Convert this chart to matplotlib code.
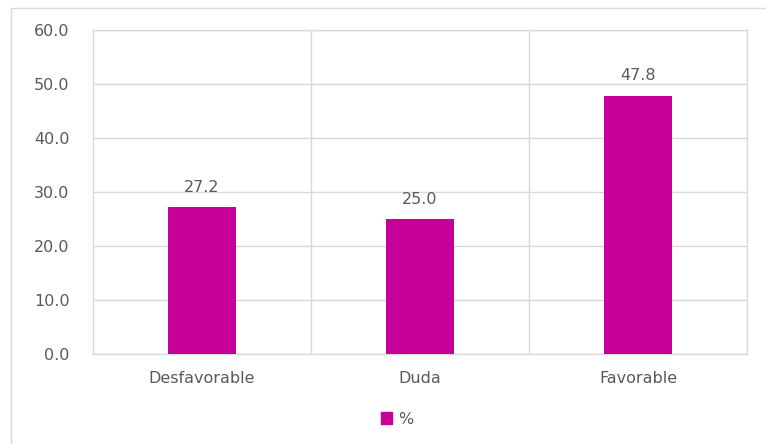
import matplotlib
matplotlib.use("Agg")
import matplotlib.pyplot as plt
from matplotlib.patches import Rectangle, Patch

categories = ["Desfavorable", "Duda", "Favorable"]
values = [27.2, 25.0, 47.8]
series_name = "%"
y_ticks = [0, 10, 20, 30, 40, 50, 60]

W, H = 766, 444
fig = plt.figure(figsize=(W / 100, H / 100), dpi=100)
plt.rcParams['font.family'] = ['DejaVu Sans']

# outer chart frame
fig.patches.append(Rectangle((11 / W, -0.1), 1.2, (H - 8) / H + 0.1,
                             transform=fig.transFigure, fill=False,
                             edgecolor="#d9d9d9", linewidth=1))

left, right, top, bottom = 93, 747, 30, 354
ax = fig.add_axes([left / W, 1 - bottom / H, (right - left) / W, (bottom - top) / H])

bar_color = "#C8009A"
text_color = "#595959"
grid_color = "#d9d9d9"
fs = 11.5

x = list(range(len(categories)))
ax.bar(x, values, width=0.31, color=bar_color, zorder=3, label=series_name)
for xi, v in zip(x, values):
    ax.text(xi, v + 2.3, f"{v:.1f}", ha="center", va="bottom",
            fontsize=fs, color=text_color)

ax.set_xlim(-0.5, len(categories) - 0.5)
ax.set_ylim(0, 60)
ax.set_yticks(y_ticks)
ax.set_yticklabels([f"{t:.1f}" for t in y_ticks])
ax.set_xticks(x)
ax.set_xticklabels(categories)
ax.tick_params(axis="both", length=0, colors=text_color, labelsize=fs)
ax.tick_params(axis="y", pad=17)
ax.tick_params(axis="x", pad=12)

ax.yaxis.grid(True, color=grid_color, linewidth=1, zorder=0)
for b in [0.5, 1.5]:
    ax.axvline(b, color=grid_color, linewidth=1, zorder=0)
for s in ax.spines.values():
    s.set_color(grid_color)
    s.set_linewidth(1)

handles = [Patch(facecolor=bar_color, edgecolor=bar_color, label=series_name)]
fig.legend(handles=handles, loc="center", bbox_to_anchor=(397 / W, 1 - 419 / H),
           frameon=False, fontsize=fs, handlelength=0.7, handleheight=0.7,
           handletextpad=0.4, labelcolor=text_color)

fig.savefig("out.png", dpi=100)
